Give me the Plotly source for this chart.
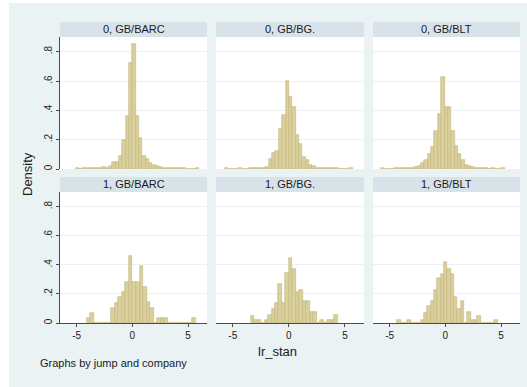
import plotly.graph_objects as go

# ---------------- data ----------------
panel_titles = ["0, GB/BARC", "0, GB/BG.", "0, GB/BLT",
                "1, GB/BARC", "1, GB/BG.", "1, GB/BLT"]

# left edge of the first bin, bin width, density of each bin
barc0_start, barc0_width = -5.1, 0.3
barc0_density = [0.01, 0, 0.005, 0.005, 0.005, 0.005, 0.005, 0.005, 0.015, 0.01,
                 0.02, 0.045, 0.05, 0.09, 0.2, 0.36, 0.72, 0.85, 0.36, 0.21,
                 0.09, 0.07, 0.04, 0.03, 0.02, 0.015, 0.01, 0.005, 0.005, 0.005,
                 0.005, 0.005, 0.005, 0, 0, 0, 0.01]

bg0_start, bg0_width = -5.7, 0.3
bg0_density = [0.005, 0, 0, 0, 0.005, 0, 0, 0.005, 0.005, 0.005,
               0.01, 0.01, 0.015, 0.07, 0.11, 0.12, 0.27, 0.37, 0.60, 0.49,
               0.42, 0.23, 0.17, 0.08, 0.06, 0.03, 0.02, 0.01, 0.005, 0.005,
               0.005, 0.005, 0.005, 0.005, 0, 0, 0, 0.005]

blt0_start, blt0_width = -5.78, 0.3
blt0_density = [0.005, 0, 0, 0, 0.005, 0.005, 0.005, 0.005, 0.005, 0.01,
                0.015, 0.02, 0.04, 0.06, 0.10, 0.15, 0.26, 0.377, 0.63, 0.42,
                0.42, 0.26, 0.16, 0.10, 0.06, 0.03, 0.02, 0.015, 0.01, 0.01,
                0.01, 0.005, 0, 0.005, 0, 0, 0.005]

barc1_start, barc1_width = -4.1, 0.316
barc1_density = [0.035, 0.07, 0, 0, 0, 0, 0, 0.106, 0.14, 0.176,
                 0.21, 0.282, 0.46, 0.282, 0.282, 0.39, 0.247, 0.141, 0.106, 0,
                 0.035, 0.035, 0.035, 0, 0, 0, 0, 0, 0, 0, 0.035]

bg1_start, bg1_width = -3.41, 0.31
bg1_density = [0.05, 0.02, 0.02, 0, 0.02, 0.053, 0.095, 0.137, 0.27, 0.14,
               0.345, 0.45, 0.37, 0.21, 0.23, 0.153, 0.153, 0.079, 0.079, 0,
               0.02, 0, 0.02, 0.02, 0.053]

blt1_start, blt1_width = -4.32, 0.3
blt1_density = [0.02, 0, 0, 0.02, 0, 0, 0, 0.02, 0.072, 0.12,
                0.153, 0.23, 0.31, 0.34, 0.42, 0.37, 0.34, 0.18, 0.095, 0.153,
                0, 0.077, 0.02, 0.02, 0.046, 0, 0, 0, 0, 0.02]

x_ticks = [-5, 0, 5]
x_ticklabels = ["-5", "0", "5"]
y_ticks = [0, 0.2, 0.4, 0.6, 0.8]
y_ticklabels = ["0", ".2", ".4", ".6", ".8"]

hists = [(barc0_start, barc0_width, barc0_density),
         (bg0_start, bg0_width, bg0_density),
         (blt0_start, blt0_width, blt0_density),
         (barc1_start, barc1_width, barc1_density),
         (bg1_start, bg1_width, bg1_density),
         (blt1_start, blt1_width, blt1_density)]

# ---------------- styling / layout ----------------
W, H = 527, 387
BG = "#eaf2f3"
STRIP = "#d8e3e9"
BAR_FILL = "#d9d09d"
BAR_LINE = "#c3b679"
AXIS = "#4a4a4a"
FONT = "Liberation Sans, Arial, sans-serif"

col_px = [(60, 207), (216, 364), (373, 520)]
row_px = [(37, 169), (192, 323)]          # plot areas (top, bottom) in pixels
strip_px = [(22, 37), (177, 192)]

def fx(px):
    return px / W

def fy(py):
    return 1 - py / H

fig = go.Figure()
shapes = []
annotations = []

for i, (start, width, dens) in enumerate(hists):
    r, c = divmod(i, 3)
    n = i + 1
    xa = "x" if n == 1 else f"x{n}"
    ya = "y" if n == 1 else f"y{n}"
    centers = [start + width * (k + 0.5) for k in range(len(dens))]
    fig.add_trace(go.Bar(
        x=centers, y=dens, width=width, xaxis=xa, yaxis=ya,
        marker=dict(color=BAR_FILL, line=dict(color=BAR_LINE, width=0.6)),
        showlegend=False, hoverinfo="skip"))

    x0, x1 = col_px[c]
    t, b = row_px[r]
    xkey = "xaxis" if n == 1 else f"xaxis{n}"
    ykey = "yaxis" if n == 1 else f"yaxis{n}"
    bottom_row = (r == 1)
    left_col = (c == 0)
    fig.layout[xkey] = dict(
        domain=[fx(x0), fx(x1)], anchor=ya, range=[-6.5, 6.7],
        showgrid=False, zeroline=False,
        showline=bottom_row, linecolor=AXIS, linewidth=1,
        ticks="outside" if bottom_row else "", ticklen=3, tickcolor=AXIS,
        tickvals=x_ticks, ticktext=x_ticklabels, showticklabels=bottom_row,
        tickfont=dict(family=FONT, size=10, color="#222"),
        fixedrange=True)
    fig.layout[ykey] = dict(
        domain=[fy(b), fy(t)], anchor=xa, range=[0, 0.9],
        showgrid=True, gridcolor=BG, gridwidth=1, zeroline=False,
        showline=left_col, linecolor=AXIS, linewidth=1,
        ticks="outside" if left_col else "", ticklen=3, tickcolor=AXIS,
        tickvals=y_ticks, ticktext=y_ticklabels, tickangle=-90,
        showticklabels=left_col,
        tickfont=dict(family=FONT, size=10, color="#222"),
        fixedrange=True)

    # strip header
    st, sb = strip_px[r]
    shapes.append(dict(type="rect", xref="paper", yref="paper",
                       x0=fx(x0), x1=fx(x1), y0=fy(sb), y1=fy(st),
                       fillcolor=STRIP, line=dict(width=0), layer="below"))
    annotations.append(dict(text=panel_titles[i], xref="paper", yref="paper",
                            x=fx((x0 + x1) / 2), y=fy((st + sb) / 2),
                            xanchor="center", yanchor="middle", showarrow=False,
                            font=dict(family=FONT, size=11, color="#1a1a1a")))

# white outer border (left and top)
shapes.append(dict(type="rect", xref="paper", yref="paper", x0=0, x1=fx(9),
                   y0=0, y1=1, fillcolor="white", line=dict(width=0), layer="below"))
shapes.append(dict(type="rect", xref="paper", yref="paper", x0=0, x1=1,
                   y0=fy(3), y1=1, fillcolor="white", line=dict(width=0), layer="below"))

annotations += [
    dict(text="Density", xref="paper", yref="paper", x=fx(27), y=fy(174),
         textangle=-90, showarrow=False, xanchor="center", yanchor="middle",
         font=dict(family=FONT, size=13, color="#1a1a1a")),
    dict(text="lr_stan", xref="paper", yref="paper", x=fx(277), y=fy(351),
         showarrow=False, xanchor="center", yanchor="middle",
         font=dict(family=FONT, size=13, color="#1a1a1a")),
    dict(text="Graphs by jump and company", xref="paper", yref="paper",
         x=fx(38), y=fy(363), showarrow=False, xanchor="left", yanchor="middle",
         font=dict(family=FONT, size=11, color="#1a1a1a")),
]

fig.update_layout(
    width=W, height=H, margin=dict(l=0, r=0, t=0, b=0),
    paper_bgcolor=BG, plot_bgcolor="white",
    shapes=shapes, annotations=annotations,
    bargap=0, barmode="overlay", showlegend=False,
    font=dict(family=FONT),
)

fig.write_html("out.html")
